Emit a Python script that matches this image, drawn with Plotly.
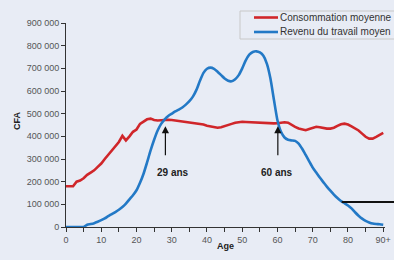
import plotly.graph_objects as go

ages = list(range(0, 91))
consommation = [180,180,180,200,205,215,230,240,250,265,280,300,320,340,355,375,402,382,400,420,
                430,455,465,475,478,472,470,472,473,473,472,470,468,466,465,462,460,458,455,452,
                447,443,440,438,440,444,449,455,460,463,464,463,462,463,462,460,458,456,456,457,
                458,460,462,460,450,442,435,430,427,432,438,442,440,436,434,434,438,446,453,456,
                452,444,435,426,412,398,390,390,398,408,415]
revenu = [0,0,0,0,0,0,10,13,17,23,30,38,48,57,66,76,88,103,122,140,
          162,195,235,285,338,385,426,455,475,490,500,510,518,527,540,555,575,605,645,680,
          698,703,698,685,670,655,645,643,652,670,700,735,760,772,775,770,755,720,655,560,
          470,420,395,385,382,380,368,345,318,290,262,240,218,198,178,160,143,128,115,105,
          95,82,65,50,37,27,20,15,13,12,10]
consommation = [v * 1000 for v in consommation]
revenu = [v * 1000 for v in revenu]

series_names = ["Consommation moyenne", "Revenu du travail moyen"]
series_colors = ["#d0262a", "#2379c6"]

y_ticks = [0, 100000, 200000, 300000, 400000, 500000, 600000, 700000, 800000, 900000]
y_labels = ["0", "100 000", "200 000", "300 000", "400 000", "500 000", "600 000", "700 000", "800 000", "900 000"]
x_ticks = [0, 10, 20, 30, 40, 50, 60, 70, 80, 90]
x_labels = ["0", "10", "20", "30", "40", "50", "60", "70", "80", "90+"]

BG = "#e8ecf5"
FONT = "Liberation Sans, Arial, sans-serif"

# pixel helpers for the plot area (l=66, t=23, w=319, h=204)
def px(x):
    return (x - 66) / 319

def py(y):
    return (227 - y) / 204

fig = go.Figure()
fig.add_trace(go.Scatter(x=ages, y=consommation, mode="lines", name=series_names[0],
                         line=dict(color=series_colors[0], width=2.6)))
fig.add_trace(go.Scatter(x=ages, y=revenu, mode="lines", name=series_names[1],
                         line=dict(color=series_colors[1], width=2.6, shape="spline", smoothing=0.6)))

fig.update_layout(
    width=394, height=260,
    margin=dict(l=66, r=9, t=23, b=33, autoexpand=False),
    paper_bgcolor=BG, plot_bgcolor=BG,
    font=dict(family=FONT, size=9, color="#555555"),
    showlegend=False,
    xaxis=dict(range=[0, 90.5], tickvals=x_ticks, ticktext=x_labels,
               showgrid=False, zeroline=False, showline=True, linecolor="#333333", linewidth=1,
               ticks="outside", ticklen=4, tickcolor="#333333",
               minor=dict(dtick=5, ticks="outside", ticklen=4, tickcolor="#333333"),
               tickfont=dict(size=9, color="#555555")),
    yaxis=dict(range=[0, 900000], tickvals=y_ticks, ticktext=y_labels,
               showgrid=False, zeroline=False, showline=True, linecolor="#333333", linewidth=1,
               ticks="outside", ticklen=4, tickcolor="#333333",
               tickfont=dict(size=9, color="#555555")),
)

# Manual legend box
fig.add_shape(type="rect", xref="paper", yref="paper", x0=px(240), x1=px(400), y0=py(39), y1=py(11),
              line=dict(color="#c8c8c8", width=1), fillcolor=BG, layer="above")
for i, (nm, col) in enumerate(zip(series_names, series_colors)):
    yy = 17.5 + i * 14.5
    fig.add_shape(type="line", xref="paper", yref="paper", x0=px(254), x1=px(278),
                  y0=py(yy), y1=py(yy), line=dict(color=col, width=2.6), layer="above")
    fig.add_annotation(text=nm, xref="paper", yref="paper", x=px(278), y=py(yy),
                       xanchor="left", yanchor="middle", showarrow=False,
                       font=dict(size=10, color="#333333"))

fig.add_annotation(text="<b>CFA</b>", textangle=-90, xref="paper", yref="paper",
                   x=px(10), y=0.52, showarrow=False,
                   font=dict(size=9, color="#222222"))
fig.add_annotation(text="<b>Age</b>", xref="paper", yref="paper",
                   x=px(225), y=py(253), showarrow=False,
                   font=dict(size=9, color="#222222"))

# Arrows
for xa, label, xt in [(28.2, "29 ans", 30.4), (60.1, "60 ans", 60.0)]:
    fig.add_annotation(x=xa, y=445000, ax=xa, ay=310000, axref="x", ayref="y",
                       xref="x", yref="y", text="", showarrow=True,
                       arrowhead=2, arrowsize=1.2, arrowwidth=1.2, arrowcolor="#111111")
    fig.add_annotation(x=xt, y=241000, xref="x", yref="y", text="<b>" + label + "</b>",
                       showarrow=False, font=dict(size=10, color="#222222"))

fig.add_shape(type="line", xref="paper", yref="y", x0=px(341.7), x1=1.2,
              y0=110000, y1=110000, line=dict(color="#111111", width=2))

fig.write_html("out.html", config={"displayModeBar": False},
               post_script="document.body.style.margin='0';document.body.style.background='" + BG + "';")
